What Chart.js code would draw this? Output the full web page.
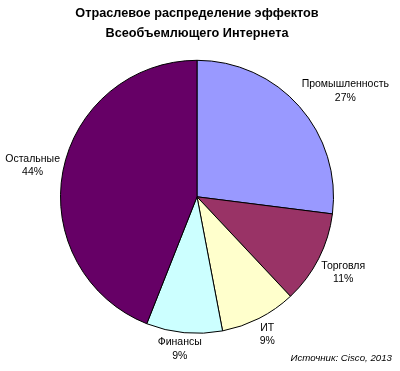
<!DOCTYPE html>
<html>
<head>
<meta charset="utf-8">
<script src="https://cdn.jsdelivr.net/npm/chart.js@4"></script>
<style>
  html, body { margin: 0; padding: 0; background: #fff; }
  #wrap { width: 400px; height: 371px; }
</style>
</head>
<body>
<div id="wrap"><canvas id="pieChart" width="400" height="371"></canvas></div>
<script>
// Données
const sectors = ["Промышленность", "Торговля", "ИТ", "Финансы", "Остальные"];
const shares = [27, 11, 9, 9, 44];
const sliceColors = ["#9999FF", "#993366", "#FFFFCC", "#CCFFFF", "#660066"];
const titleLines = ["Отраслевое распределение эффектов", "Всеобъемлющего Интернета"];
const sourceText = "Источник: Cisco, 2013";

// Étiquettes à l'extérieur des parts (coin le plus proche ancré sur le rayon)
const outsideLabels = {
    id: 'outsideLabels',
    afterDatasetsDraw(chart) {
        const ctx = chart.ctx;
        const meta = chart.getDatasetMeta(0);
        const lineH = 13.5;
        const clamp = v => Math.max(-1, Math.min(1, v));
        ctx.save();
        ctx.font = '10.5px "Liberation Sans", Arial, sans-serif';
        ctx.fillStyle = '#000';
        ctx.textAlign = 'center';
        ctx.textBaseline = 'middle';
        meta.data.forEach((arc, i) => {
            const mid = (arc.startAngle + arc.endAngle) / 2;
            const ux = Math.cos(mid), uy = Math.sin(mid);
            const w = Math.max(ctx.measureText(sectors[i]).width, ctx.measureText(shares[i] + '%').width);
            const h = lineH * 2;
            const d = arc.outerRadius + 3;
            const x = arc.x + ux * d + clamp(ux * 2) * w / 2;
            const y = arc.y + uy * d + clamp(uy * 2) * h / 2;
            ctx.fillText(sectors[i], x, y - lineH / 2);
            ctx.fillText(shares[i] + '%', x, y + lineH / 2);
        });
        // Source
        ctx.font = 'italic 9.7px "Liberation Sans", Arial, sans-serif';
        ctx.textAlign = 'right';
        ctx.fillText(sourceText, 392, 358);
        ctx.restore();
    }
};

new Chart(document.getElementById('pieChart'), {
    type: 'pie',
    data: {
        labels: sectors,
        datasets: [{
            data: shares,
            backgroundColor: sliceColors,
            borderColor: '#000',
            borderWidth: 1
        }]
    },
    options: {
        responsive: false,
        animation: false,
        layout: {
            padding: { top: 0, bottom: 37, left: 60, right: 66 }
        },
        plugins: {
            legend: { display: false },
            tooltip: { enabled: false },
            title: {
                display: true,
                text: titleLines,
                color: '#000',
                padding: { top: 4, bottom: 16 },
                font: {
                    family: '"Liberation Sans", Arial, sans-serif',
                    size: 12.7,
                    weight: 'bold',
                    lineHeight: 1.56
                }
            }
        }
    },
    plugins: [outsideLabels]
});
</script>
</body>
</html>
